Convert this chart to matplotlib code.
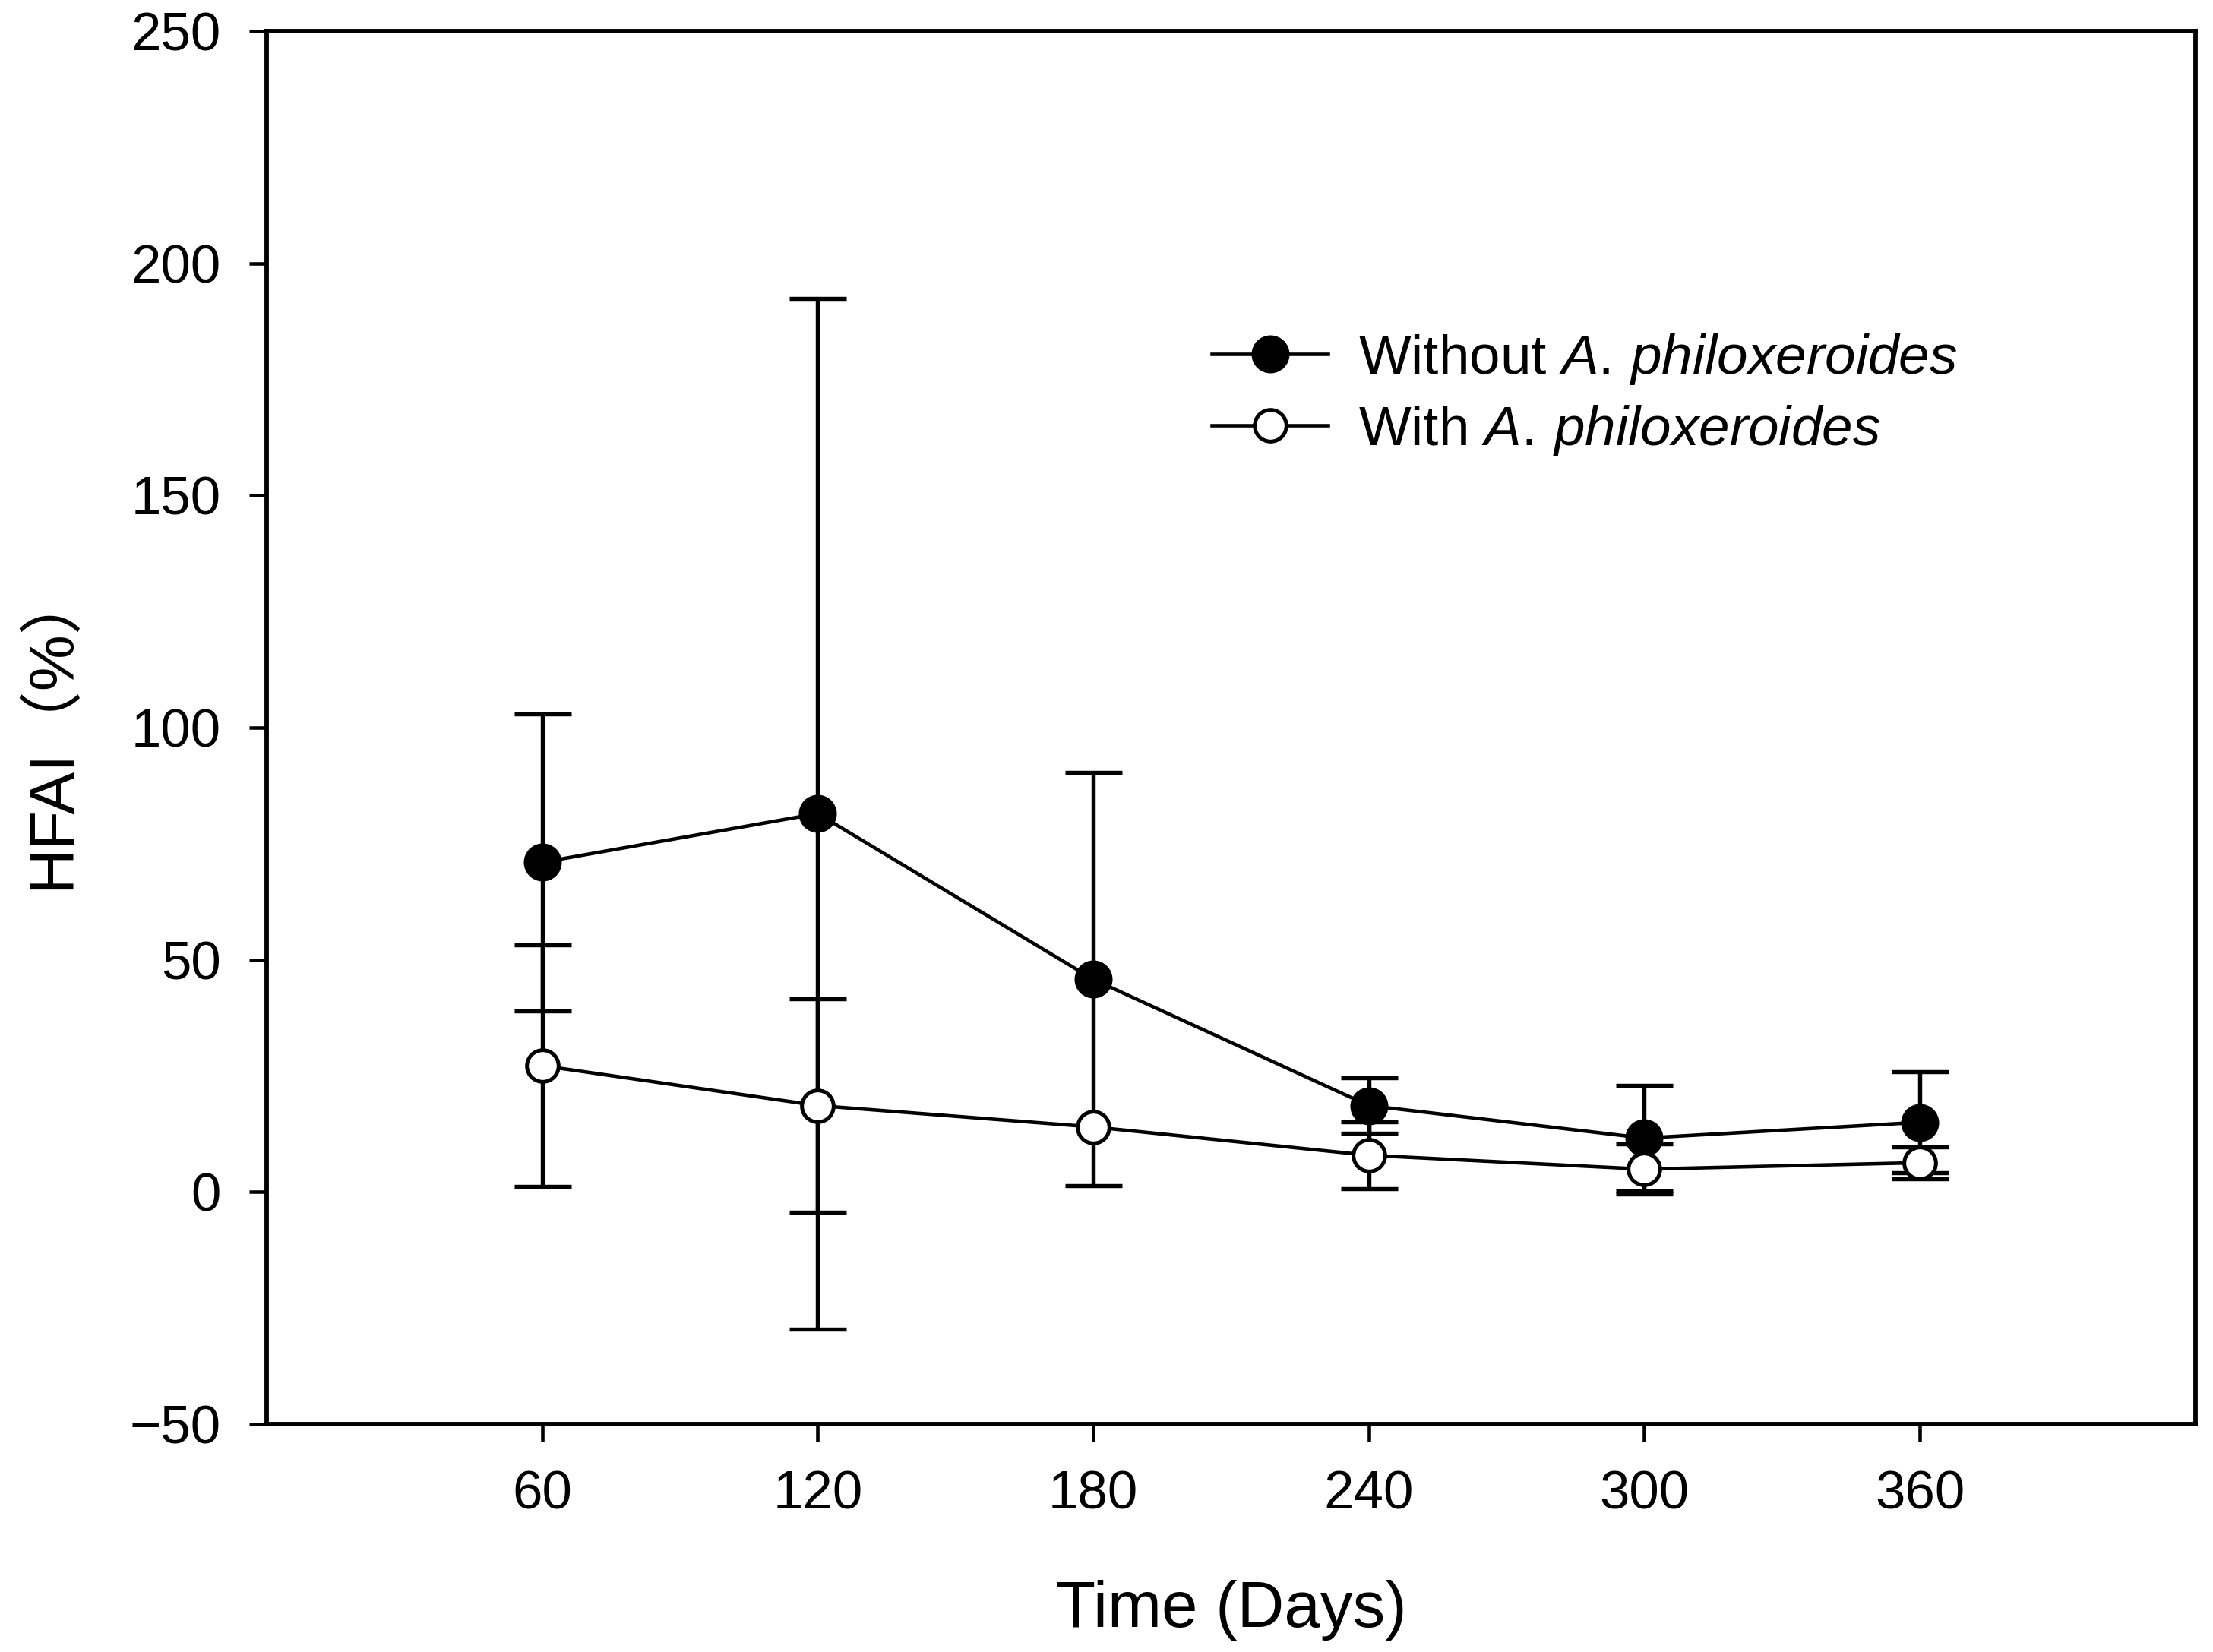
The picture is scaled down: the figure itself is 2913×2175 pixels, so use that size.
import numpy as np
import matplotlib.pyplot as plt

# data
days = [60, 120, 180, 240, 300, 360]
without_mean = [71.0, 81.5, 45.8, 18.6, 11.6, 15.0]
without_err = [32.0, 111.0, 44.5, 6.0, 11.4, 10.9]
with_mean = [27.2, 18.6, 14.0, 7.9, 4.9, 6.3]
with_err = [26.0, 23.0, np.nan, 7.2, 5.4, 3.4]

x_ticks = [60, 120, 180, 240, 300, 360]
y_ticks = [-50, 0, 50, 100, 150, 200, 250]

plt.rcParams["font.family"] = ["Liberation Sans", "Noto Sans CJK SC", "DejaVu Sans"]
plt.rcParams["mathtext.fontset"] = "custom"
plt.rcParams["mathtext.rm"] = "Liberation Sans"
plt.rcParams["mathtext.it"] = "Liberation Sans:italic"

fig = plt.figure(figsize=(9.71, 7.25), dpi=300)
ax = fig.add_axes([0.1205, 0.138, 0.8715, 0.843])

# error bars first, markers drawn on top of them
for mean, err in [(without_mean, without_err), (with_mean, with_err)]:
    ax.errorbar(days, mean, yerr=err, fmt="none", ecolor="black",
                elinewidth=1.3, capsize=9, capthick=1.3, zorder=2)

ax.plot(days, without_mean, color="black", linewidth=1.1, marker="o",
        markersize=11, markerfacecolor="black", markeredgecolor="black",
        label="Without $\\it{A.\\,philoxeroides}$", zorder=3)
ax.plot(days, with_mean, color="black", linewidth=1.1, marker="o",
        markersize=10, markerfacecolor="white", markeredgecolor="black",
        markeredgewidth=1.2, label="With $\\it{A.\\,philoxeroides}$", zorder=4)

ax.set_xlim(0, 420)
ax.set_ylim(-50, 250)
ax.set_xticks(x_ticks)
ax.set_yticks(y_ticks)
ax.tick_params(direction="out", length=5.5, width=1.1, labelsize=17, pad=9)
for sp in ax.spines.values():
    sp.set_linewidth(1.4)

ax.set_xlabel("Time (Days)", fontsize=20.5, labelpad=19)
ax.set_ylabel("HFAI（%）", fontsize=20, labelpad=15)

ax.legend(loc="center left", bbox_to_anchor=(0.49, 0.739), frameon=False,
          fontsize=17.5, handlelength=2.1, handletextpad=0.55, labelspacing=0.3,
          borderpad=0, borderaxespad=0, numpoints=1)

fig.savefig("out.png", dpi=300)
